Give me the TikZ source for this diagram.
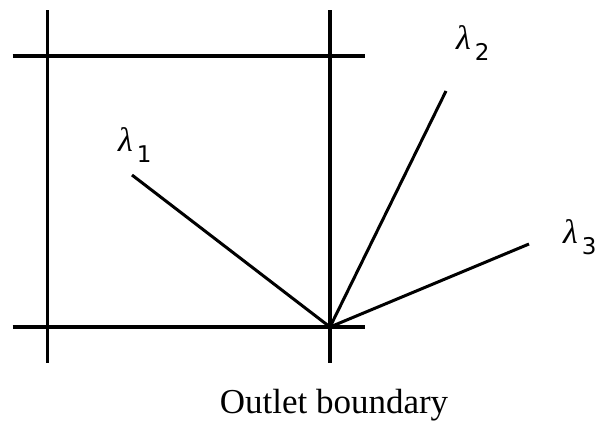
\documentclass[tikz,border=0pt]{standalone}
\usepackage{fontspec}
\setmainfont{Liberation Serif}
\newfontfamily\digfont{DejaVu Sans}
\newcommand{\lamsub}[1]{{\itshape λ}\kern4pt\raisebox{-11pt}{\fontsize{23}{24}\selectfont\digfont #1}}
\begin{document}
\begin{tikzpicture}[x=1pt,y=-1pt,
  gridline/.style={line width=3.2pt},
  ray/.style={line width=3pt},
  lam/.style={font=\fontsize{34}{36}\selectfont, inner sep=0pt}]
\useasboundingbox (0,0) rectangle (608,423);
% grid lines
\coordinate (t1) at (12.7,56);   \coordinate (t2) at (365,56);
\coordinate (b1) at (12.7,327);  \coordinate (b2) at (365,327);
\coordinate (l1) at (47.3,10);   \coordinate (l2) at (47.3,362.7);
\coordinate (r1) at (330,10);    \coordinate (r2) at (330,362.7);
\draw[gridline] (t1) -- (t2);
\draw[gridline] (b1) -- (b2);
\draw[gridline] (l1) -- (l2);
\draw[gridline] (r1) -- (r2);
% rays
\coordinate (O) at (330,327);
\coordinate (e1) at (132,175);
\coordinate (e2) at (446,91);
\coordinate (e3) at (529,244);
\draw[ray] (O) -- (e1);
\draw[ray] (O) -- (e2);
\draw[ray] (O) -- (e3);
% labels
\node[lam, anchor=base west] (L1) at (118,151) {\lamsub{1}};
\node[lam, anchor=base west] (L2) at (456,49) {\lamsub{2}};
\node[lam, anchor=base west] (L3) at (563,243) {\lamsub{3}};
\node[font=\fontsize{35}{40}\selectfont, inner sep=0pt, anchor=base] (cap) at (334,413) {Outlet boundary};
\end{tikzpicture}
\end{document}
